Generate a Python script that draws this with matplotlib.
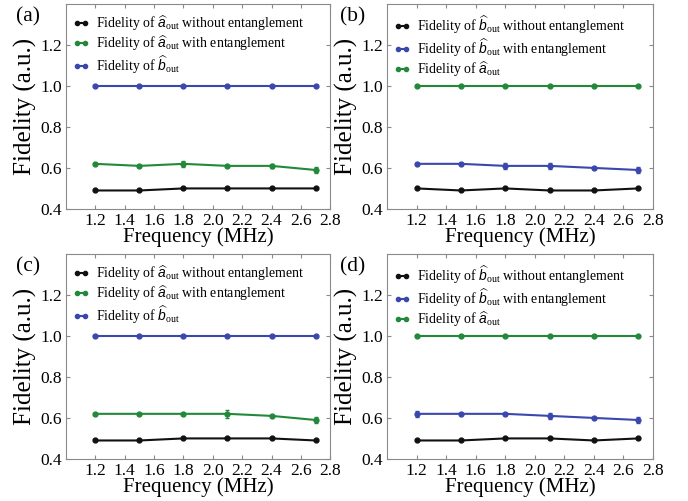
import matplotlib
matplotlib.use("Agg")
import matplotlib.pyplot as plt
from matplotlib.lines import Line2D

plt.rcParams["font.family"] = ["Liberation Serif", "DejaVu Serif"]
plt.rcParams["mathtext.fontset"] = "custom"
plt.rcParams["mathtext.rm"] = "Liberation Serif"
plt.rcParams["mathtext.it"] = "Liberation Sans:italic"

freq = [1.2, 1.5, 1.8, 2.1, 2.4, 2.7]

# (a)
a_black = [0.49, 0.49, 0.50, 0.50, 0.50, 0.50]
a_mid = [0.62, 0.61, 0.62, 0.61, 0.61, 0.59]
a_mid_err = [0.005, 0.005, 0.015, 0.005, 0.01, 0.015]
a_top = [1.0, 1.0, 1.0, 1.0, 1.0, 1.0]
# (b)
b_black = [0.50, 0.49, 0.50, 0.49, 0.49, 0.50]
b_mid = [0.62, 0.62, 0.61, 0.61, 0.60, 0.59]
b_mid_err = [0.005, 0.005, 0.015, 0.015, 0.005, 0.015]
b_top = [1.0, 1.0, 1.0, 1.0, 1.0, 1.0]
# (c)
c_black = [0.49, 0.49, 0.50, 0.50, 0.50, 0.49]
c_mid = [0.62, 0.62, 0.62, 0.62, 0.61, 0.59]
c_mid_err = [0.005, 0.005, 0.005, 0.02, 0.005, 0.015]
c_top = [1.0, 1.0, 1.0, 1.0, 1.0, 1.0]
# (d)
d_black = [0.49, 0.49, 0.50, 0.50, 0.49, 0.50]
d_mid = [0.62, 0.62, 0.62, 0.61, 0.60, 0.59]
d_mid_err = [0.015, 0.005, 0.005, 0.015, 0.005, 0.015]
d_top = [1.0, 1.0, 1.0, 1.0, 1.0, 1.0]

xticks = [1.2, 1.4, 1.6, 1.8, 2.0, 2.2, 2.4, 2.6, 2.8]
yticks = [0.4, 0.6, 0.8, 1.0, 1.2]

A = r"$\widehat{a}_{\rm out}$"
B = r"$\widehat{b}_{\rm out}$"
labels_a = ["Fidelity of %s without entanglement" % A,
            "Fidelity of %s with entanglement" % A,
            "Fidelity of %s" % B]
labels_b = ["Fidelity of %s without entanglement" % B,
            "Fidelity of %s with entanglement" % B,
            "Fidelity of %s" % A]

BLACK = "#111111"
GREEN = "#23893a"
BLUE = "#3a47ad"
SPINE = "#8a8a8a"

panels = [
    ("(a)", a_black, a_mid, a_mid_err, a_top, labels_a, GREEN, BLUE),
    ("(b)", b_black, b_mid, b_mid_err, b_top, labels_b, BLUE, GREEN),
    ("(c)", c_black, c_mid, c_mid_err, c_top, labels_a, GREEN, BLUE),
    ("(d)", d_black, d_mid, d_mid_err, d_top, labels_b, BLUE, GREEN),
]

rects = [
    [0.096, 0.583, 0.384, 0.409],
    [0.5625, 0.583, 0.3866, 0.409],
    [0.096, 0.084, 0.384, 0.409],
    [0.5625, 0.084, 0.3866, 0.409],
]

fig = plt.figure(figsize=(6.88, 5.01), dpi=100)

for i, (rect, (tag, yb, ym, ye, yt, labs, cm, ct)) in enumerate(zip(rects, panels)):
    ax = fig.add_axes(rect)
    ax.plot(freq, yb, color=BLACK, marker="o", ms=3.5, lw=1.5)
    ax.errorbar(freq, ym, yerr=ye, color=cm, marker="o", ms=3.5, lw=1.5,
                capsize=1.5, elinewidth=0.8, ecolor=cm)
    ax.plot(freq, yt, color=ct, marker="o", ms=3.5, lw=1.5)
    ax.set_xlim(1.0, 2.8)
    ax.set_ylim(0.4, 1.4)
    ax.set_xticks(xticks)
    ax.set_yticks(yticks)
    ax.tick_params(direction="in", length=3, color=SPINE, top=True,
                   right=True, labelsize=12.5, pad=3)
    for s in ax.spines.values():
        s.set_color(SPINE)
    ax.set_xlabel("Frequency (MHz)", fontsize=15, labelpad=-1)
    ax.set_ylabel("Fidelity (a.u.)", fontsize=18, labelpad=2)
    handles = [Line2D([], [], color=c, marker="o", ms=3, lw=1.5)
               for c in (BLACK, cm, ct)]
    ax.legend(handles, labs, loc="upper left", frameon=False, fontsize=10,
              numpoints=2, handlelength=1.2, handletextpad=0.5,
              labelspacing=0.05, borderpad=0.3, borderaxespad=0,
              bbox_to_anchor=(0.01, 0.975))
    xoff = -0.19 if i % 2 == 0 else -0.177
    ax.text(xoff, 0.985, tag, transform=ax.transAxes, fontsize=15.5,
            va="top", ha="left")

fig.savefig("out.png", dpi=100)
